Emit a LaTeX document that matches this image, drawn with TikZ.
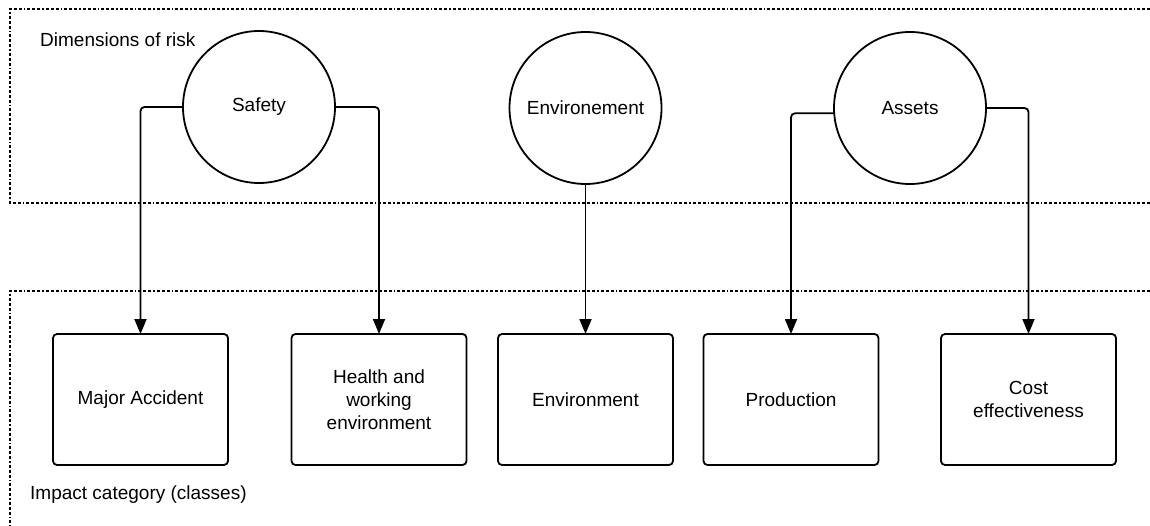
\documentclass[tikz,border=0pt]{standalone}
\usepackage{fontspec}
\setmainfont{Liberation Sans}
\usepackage{tikz}
\usetikzlibrary{positioning,arrows.meta}

\begin{document}
\begin{tikzpicture}[
        x=1pt, y=-1pt,
        dimension/.style={draw, circle, line width=1.8pt, minimum size=152pt, inner sep=0pt, outer sep=0pt, font=\fontsize{19}{23}\selectfont},
        category/.style={draw, rounded corners=4pt, line width=1.8pt, minimum width=175pt, minimum height=131pt, outer sep=0pt, align=center, font=\fontsize{19}{23}\selectfont},
        arrow/.style={-{Triangle[length=15pt,width=12pt]}, line width=1.8pt, rounded corners=4pt},
        frame/.style={line width=1.7pt, dash pattern=on 3pt off 2pt on 3pt off 2pt on 3pt off 2pt on 1.5pt off 2pt},
        caption/.style={anchor=base west, inner sep=0pt, font=\fontsize{19}{23}\selectfont},
        node distance=63pt
    ]
    \useasboundingbox (0,0) rectangle (1150,526);

    % 虚线框
    \draw[frame] (1150,9) -| (10,203) -- (1150,203);
    \draw[frame] (1150,291) -| (10,526);
    \node[caption] (dimlabel) at (40,46.5) {Dimensions of risk};
    \node[caption] (implabel) at (30,499) {Impact category (classes)};

    % 风险维度
    \node[dimension] (safety) at (259,107) {Safety};
    \node[dimension] (environement) at (585.5,108) {Environement};
    \node[dimension] (assets) at (910,108) {Assets};

    % 影响类别
    \node[category] (accident) at (140.5,399.5) {Major Accident};
    \node[category, right=63.5pt of accident] (health) {Health and\\working\\environment};
    \node[category, right=31.5pt of health] (environment) {Environment};
    \node[category, right=30.5pt of environment] (production) {Production};
    \node[category, right=62.5pt of production] (cost) {Cost\\effectiveness};

    % 连接箭头
    \draw[arrow] (safety.west) -| (accident.north);
    \draw[arrow] (safety.east) -| (health.north);
    \draw[arrow] (environement) -- (environment);
    \draw[arrow] (assets.184.5) -| (production.north);
    \draw[arrow] (assets.east) -| (cost.north);

\end{tikzpicture}
\end{document}
